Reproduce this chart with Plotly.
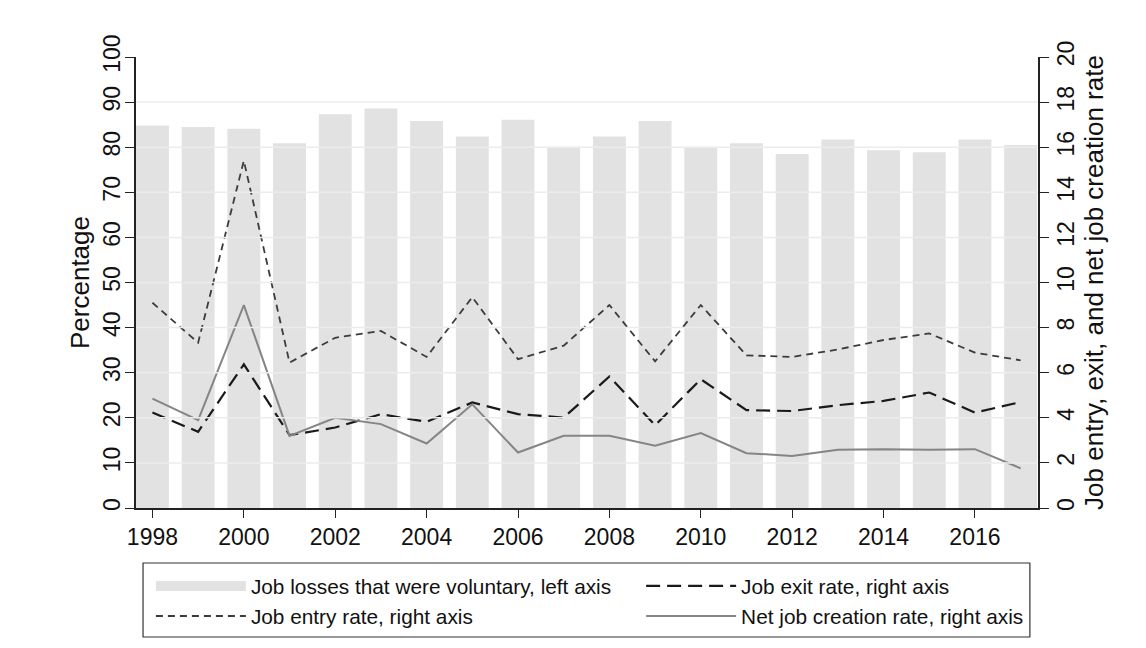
import plotly.graph_objects as go

years = list(range(1998, 2018))
voluntary_losses = [84.8, 84.5, 84.1, 80.9, 87.3, 88.6, 85.8, 82.4, 86.1, 80.0,
                    82.4, 85.8, 79.9, 80.9, 78.5, 81.7, 79.3, 78.9, 81.7, 80.5]
job_exit = [4.23, 3.38, 6.37, 3.23, 3.57, 4.16, 3.82, 4.68, 4.16, 4.01,
            5.83, 3.67, 5.71, 4.34, 4.30, 4.56, 4.75, 5.12, 4.23, 4.70]
job_entry = [9.10, 7.33, 15.40, 6.45, 7.55, 7.85, 6.70, 9.35, 6.60, 7.20,
             9.00, 6.50, 9.00, 6.77, 6.70, 7.03, 7.45, 7.74, 6.89, 6.55]
net_creation = [4.85, 3.90, 9.00, 3.20, 4.00, 3.72, 2.86, 4.60, 2.46, 3.20,
                3.20, 2.76, 3.32, 2.43, 2.31, 2.58, 2.61, 2.58, 2.61, 1.76]

left_ticks = list(range(0, 101, 10))
right_ticks = list(range(0, 21, 2))
x_ticks = list(range(1998, 2017, 2))

FONT = "Liberation Sans, Arial, Helvetica, sans-serif"
BAR_COLOR = "#e2e2e2"

fig = go.Figure()
fig.add_trace(go.Bar(
    x=years, y=voluntary_losses, width=0.72,
    marker=dict(color=BAR_COLOR, line=dict(width=0)),
    name="Job losses that were voluntary, left axis", showlegend=False))
# legend key for the bars (wide swatch)
fig.add_trace(go.Scatter(
    x=[None], y=[None], mode="lines",
    line=dict(color=BAR_COLOR, width=24),
    name="Job losses that were voluntary, left axis", legend="legend"))
fig.add_trace(go.Scatter(
    x=years, y=job_exit, yaxis="y2", mode="lines",
    line=dict(color="#1a1a1a", width=2.2, dash="14px,7px"),
    name="Job exit rate, right axis", legend="legend2"))
fig.add_trace(go.Scatter(
    x=years, y=job_entry, yaxis="y2", mode="lines",
    line=dict(color="#3c3c3c", width=1.8, dash="7px,5px"),
    name="Job entry rate, right axis", legend="legend"))
fig.add_trace(go.Scatter(
    x=years, y=net_creation, yaxis="y2", mode="lines",
    line=dict(color="#858585", width=2),
    name="Net job creation rate, right axis", legend="legend2"))

shapes = []
for v in left_ticks[1:-1]:
    shapes.append(dict(type="line", xref="paper", x0=0, x1=1, yref="y", y0=v, y1=v,
                       line=dict(color="#ececec", width=1.5), layer="above"))
# legend frame
shapes.append(dict(type="rect", xref="paper", yref="paper",
                   x0=0.0078, x1=0.991, y0=-0.286, y1=-0.122,
                   line=dict(color="#333333", width=1.2), fillcolor="rgba(0,0,0,0)"))

fig.update_layout(
    width=1146, height=648,
    margin=dict(l=136, r=108, t=57, b=139),
    paper_bgcolor="white", plot_bgcolor="white",
    font=dict(family=FONT, color="#111111"),
    showlegend=True,
    shapes=shapes,
    xaxis=dict(
        range=[1997.64, 2017.38], tickvals=x_ticks, ticks="outside", ticklen=8,
        tickcolor="#222", showline=True, linecolor="#222", linewidth=1.5,
        showgrid=False, zeroline=False, tickfont=dict(size=23)),
    yaxis=dict(
        range=[0, 100], tickvals=left_ticks, ticks="outside", ticklen=9,
        tickcolor="#222", showline=True, linecolor="#222", linewidth=1.5,
        showgrid=False, zeroline=False, tickangle=-90, tickfont=dict(size=23),
        ticklabelstandoff=-4,
        title=dict(text="Percentage", font=dict(size=26), standoff=2)),
    yaxis2=dict(
        range=[0, 20], tickvals=right_ticks, overlaying="y", side="right",
        ticks="outside", ticklen=9, tickcolor="#222", showline=True,
        linecolor="#222", linewidth=1.5, showgrid=False, zeroline=False,
        tickangle=-90, tickfont=dict(size=23), ticklabelstandoff=-2,
        title=dict(text="Job entry, exit, and net job creation rate",
                   font=dict(size=26), standoff=6)),
    legend=dict(x=0.0165, y=-0.126, xanchor="left", yanchor="top",
                orientation="v", font=dict(size=20.8), itemwidth=90,
                bgcolor="rgba(0,0,0,0)", borderwidth=0, tracegroupgap=0,
                traceorder="normal"),
    legend2=dict(x=0.560, y=-0.126, xanchor="left", yanchor="top",
                 orientation="v", font=dict(size=20.8), itemwidth=90,
                 bgcolor="rgba(0,0,0,0)", borderwidth=0, tracegroupgap=0,
                 traceorder="normal"),
)

fig.write_html("out.html")
